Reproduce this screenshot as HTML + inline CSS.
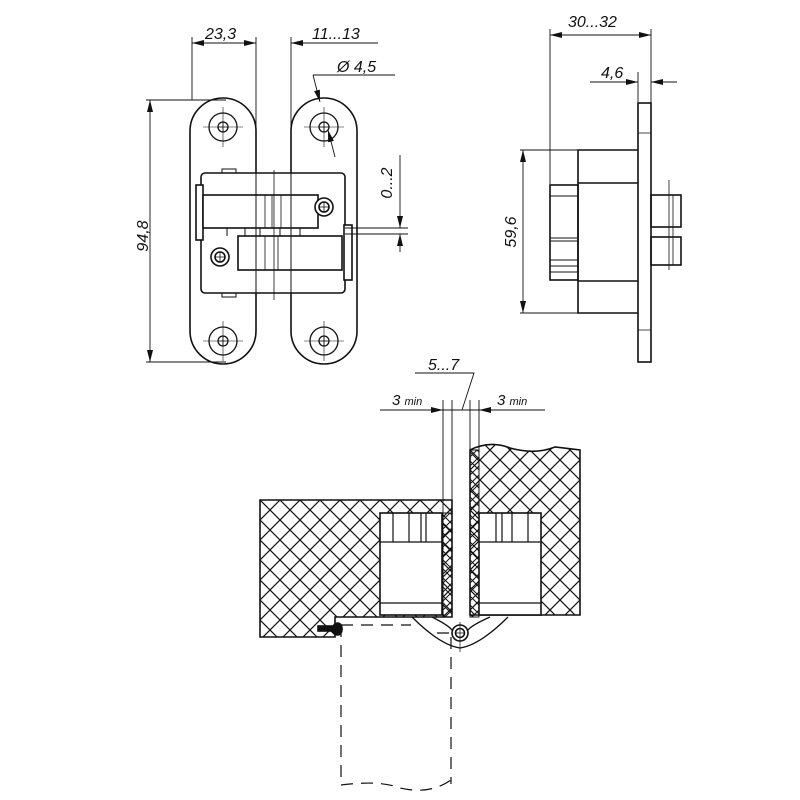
<!DOCTYPE html>
<html><head><meta charset="utf-8"><style>html,body{margin:0;padding:0;background:#fff}svg{display:block}text{font-family:"Liberation Sans",sans-serif;font-style:italic;fill:#111}</style></head>
<body>
<svg width="800" height="800" viewBox="0 0 800 800" xmlns="http://www.w3.org/2000/svg">
<defs>
<pattern id="h" width="20" height="20" patternUnits="userSpaceOnUse">
<path d="M0 0L20 20M20 0L0 20" stroke="#111" stroke-width="1.2"/>
</pattern>
<pattern id="hs" width="9" height="9" patternUnits="userSpaceOnUse">
<path d="M0 0L9 9M9 0L0 9" stroke="#111" stroke-width="1"/>
</pattern>
<marker id="a" viewBox="0 0 12 6" refX="12" refY="3" markerWidth="12" markerHeight="6" orient="auto-start-reverse" markerUnits="userSpaceOnUse"><path d="M0 0L12 3L0 6z" fill="#111"/></marker>
</defs>
<g fill="none" stroke="#111" stroke-width="1.6">
<!-- plates -->
<rect x="190" y="98" width="66" height="266" rx="33"/>
<rect x="291" y="98" width="66" height="266" rx="33"/>
<g stroke-width="1.3">
<circle cx="223" cy="127" r="14"/><circle cx="223" cy="127" r="5"/>
<circle cx="223" cy="341" r="14"/><circle cx="223" cy="341" r="5"/>
<circle cx="324" cy="127" r="14"/><circle cx="324" cy="127" r="5"/>
<circle cx="324" cy="341" r="14"/><circle cx="324" cy="341" r="5"/>
<path d="M218 127h10M223 122v10M218 341h10M223 336v10M319 127h10M324 122v10M319 341h10M324 336v10" stroke-width="0.8"/>
<path d="M203 127h40M223 107v40M203 341h40M223 321v40M304 127h40M324 107v40M304 341h40M324 321v40" stroke-width="0.6"/>
</g>
<!-- mechanism -->
<rect x="201" y="173" width="144" height="120" rx="4" fill="#fff"/>
<rect x="196" y="185" width="7" height="55" fill="#fff"/>
<rect x="344" y="225" width="8" height="55" fill="#fff"/>
<rect x="203" y="195" width="115" height="33" fill="#fff"/>
<rect x="238" y="236" width="104" height="34" fill="#fff"/>
<path d="M256 173v120M291 173v120M222 173v-4h14v4M222 293v4h14v-4M227 228v8M300 228v8M260 228v8M280 228v8M245 228v8" stroke-width="1"/>
<path d="M265 195v33M272 195v33M281 195v33M265 236v34M278 236v34M274 170v130" stroke-width="0.8"/>
<circle cx="324" cy="207" r="9" fill="#fff"/><circle cx="324" cy="207" r="5"/>
<circle cx="220" cy="257" r="9" fill="#fff"/><circle cx="220" cy="257" r="5"/>
<path d="M319 207h10M324 202v10M215 257h10M220 252v10" stroke-width="0.8"/>
<!-- dims front -->
<g stroke-width="0.9">
<path d="M192 37v63M256 37v135M291 37v135M146 100h80M146 362h80M345 228h63M345 234h63M313 75h82"/>
<path d="M192 43h64" marker-start="url(#a)" marker-end="url(#a)"/>
<path d="M378 43h-87" marker-end="url(#a)"/>
<path d="M150 100v262" marker-start="url(#a)" marker-end="url(#a)"/>
<path d="M400 155v73" marker-end="url(#a)"/>
<path d="M400 252v-18" marker-end="url(#a)"/>
<path d="M313 75l7 27" marker-end="url(#a)"/>
<path d="M335 157l-7 -27" marker-end="url(#a)"/>
</g>
<!-- side view -->
<rect x="638" y="103" width="13" height="259" fill="#fff"/>
<path d="M638 133h13M638 330h13" stroke-width="0.8"/>
<path d="M638 150H578V313H638M578 183H638M578 281H638"/>
<rect x="550" y="185" width="28" height="95"/>
<path d="M550 196h28M550 238h28M550 241h28M550 260h28M550 266h28M550 272h28" stroke-width="1"/>
<rect x="651" y="195" width="30" height="32"/><rect x="651" y="237" width="30" height="28"/>
<path d="M673 195v70M669 180v90" stroke-width="0.8"/>
<g stroke-width="0.9">
<path d="M550 29v155M651 29v75M520 150h58M520 313h58M638 72v30"/>
<path d="M550 35h101" marker-start="url(#a)" marker-end="url(#a)"/>
<path d="M590 82h48" marker-end="url(#a)"/>
<path d="M677 82h-26" marker-end="url(#a)"/>
<path d="M523 150v163" marker-start="url(#a)" marker-end="url(#a)"/>
</g>
<!-- bottom view -->
<path d="M260 500H452V617H335V637H260Z" fill="url(#h)"/>
<path d="M470 450Q490 440 510 448Q535 455 555 447L580 450V615H470Z" fill="url(#h)"/>
<rect x="380" y="513" width="62" height="102" fill="#fff"/>
<rect x="443" y="513" width="9" height="104" fill="url(#hs)" stroke-width="1"/>
<rect x="479" y="513" width="62" height="102" fill="#fff"/>
<rect x="470" y="450" width="9" height="167" fill="url(#hs)" stroke-width="1"/>
<path d="M380 542h62M380 603h62M479 542h62M479 603h62" stroke-width="1.2"/>
<path d="M393 513v29M409 513v29M421 513v29M426 513v29M496 513v29M502 513v29M512 513v29M528 513v29" stroke-width="1.2"/>
<rect x="333" y="623" width="9" height="12" rx="5" fill="#111"/>
<rect x="318" y="626" width="16" height="5" fill="#111"/>
<path d="M412 617Q440 645 460 648Q480 645 508 617M432 617Q448 625 452 630M490 617Q472 625 468 630" stroke-width="1.3"/>
<circle cx="460" cy="633" r="8" fill="#fff"/><circle cx="460" cy="633" r="4.5"/>
<path d="M456 633h8M460 629v8M460 622v30" stroke-width="0.7"/>
<path d="M341 625v160M451 637v147M341 625h70M437 633h14M341 785Q380 780 400 788Q430 795 451 780" stroke-dasharray="12 8" stroke-width="1.2"/>
<g stroke-width="0.9">
<path d="M443 400v113M452 400v100M470 400v50M479 400v50"/>
<path d="M380 410h63" marker-end="url(#a)"/>
<path d="M545 410h-66" marker-end="url(#a)"/>
<path d="M443 410h36M415 373h59L462 410"/>
</g>
</g>
<text x="205" y="39" font-size="16">23,3</text>
<text x="312" y="39" font-size="16">11...13</text>
<text x="337" y="72" font-size="16">Ø 4,5</text>
<text x="148" y="236" font-size="16" transform="rotate(-90 148 236)" text-anchor="middle">94,8</text>
<text x="392" y="183" font-size="16" transform="rotate(-90 392 183)" text-anchor="middle">0...2</text>
<text x="568" y="27" font-size="16">30...32</text>
<text x="601" y="78" font-size="16">4,6</text>
<text x="516" y="232" font-size="16" transform="rotate(-90 516 232)" text-anchor="middle">59,6</text>
<text x="428" y="370" font-size="16">5...7</text>
<text x="392" y="405" font-size="15">3 <tspan font-size="11">min</tspan></text>
<text x="497" y="405" font-size="15">3 <tspan font-size="11">min</tspan></text>
</svg>
</body></html>
